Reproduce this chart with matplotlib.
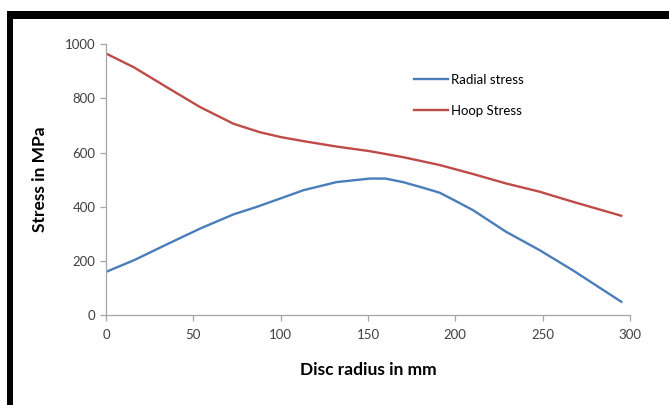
import matplotlib.pyplot as plt
from matplotlib.patches import Rectangle

# values (disc radius in mm, stress in MPa)
radius_radial = [0, 16, 35, 54, 73, 86, 100, 113, 132, 151, 160, 170, 180, 191, 200, 210,
                 229, 248, 267, 295]
radial_stress = [160, 203, 262, 320, 372, 399, 431, 461, 491, 504, 504, 491, 473, 452, 422, 388,
                 308, 241, 167, 50]

radius_hoop = [0, 16, 35, 54, 73, 88, 100, 113, 132, 151, 170, 191, 210, 229, 248, 267, 295]
hoop_stress = [965, 914, 840, 767, 706, 675, 657, 642, 622, 605, 583, 554, 521, 486, 456, 419, 367]

x_ticks = [0, 50, 100, 150, 200, 250, 300]
y_ticks = [0, 200, 400, 600, 800, 1000]

plt.rcParams['font.family'] = ['Lato', 'DejaVu Sans']

fig = plt.figure(figsize=(6.69, 4.05), dpi=100)
ax = fig.add_axes([106 / 669, 1 - 315.3 / 405, (630 - 106) / 669, (315.3 - 44) / 405])

ax.plot(radius_radial, radial_stress, color='#4a7ebb', lw=1.7, label='Radial stress',
        solid_joinstyle='round')
ax.plot(radius_hoop, hoop_stress, color='#be4b48', lw=1.7, label='Hoop Stress',
        solid_joinstyle='round')

ax.set_xlim(0, 300)
ax.set_ylim(0, 1000)
ax.set_xticks(x_ticks)
ax.set_yticks(y_ticks)

for side in ['top', 'right']:
    ax.spines[side].set_visible(False)
for side in ['left', 'bottom']:
    ax.spines[side].set_color('#a6a6a6')
    ax.spines[side].set_linewidth(0.9)
ax.tick_params(colors='#a6a6a6', length=4, width=0.9, labelcolor='#404040', labelsize=9.5)
ax.tick_params(axis='x', pad=6)

ax.set_xlabel('Disc radius in mm', fontsize=12.5, fontweight='bold', labelpad=15)
ax.set_ylabel('Stress in MPa', fontsize=12.5, fontweight='bold', labelpad=12)

ax.legend(loc='upper left', bbox_to_anchor=(0.565, 0.935), frameon=False, fontsize=9.5,
          handlelength=2.6, handletextpad=0.2, labelspacing=1.45)

# black frame on top and left edges
fig.add_artist(Rectangle((7 / 669, 0), 6 / 669, 1 - 11 / 405, transform=fig.transFigure,
                         color='black', lw=0))
fig.add_artist(Rectangle((7 / 669, 1 - 19 / 405), 1, 8 / 405, transform=fig.transFigure,
                         color='black', lw=0))

fig.savefig('out.png', dpi=100)
